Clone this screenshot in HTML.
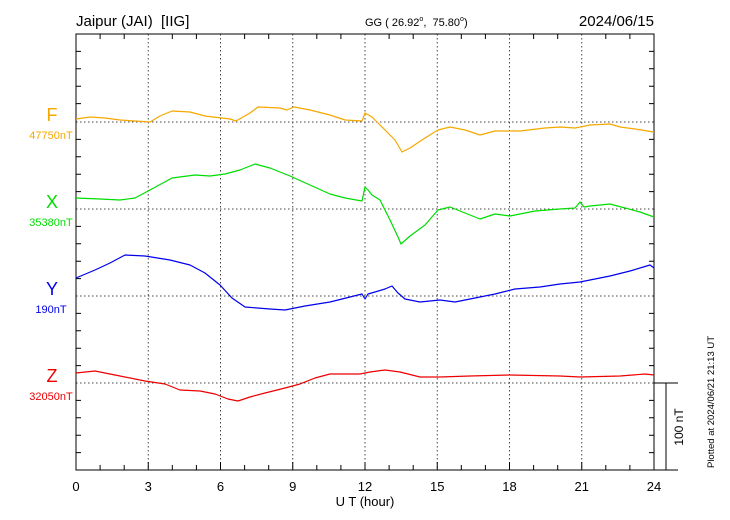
<!DOCTYPE html>
<html><head><style>body{margin:0;background:#fff}svg{display:block;font-family:"Liberation Sans",sans-serif}</style></head><body>
<svg width="730" height="520" xmlns="http://www.w3.org/2000/svg">
<rect width="730" height="520" fill="#fff"/>
<text x="76" y="26" font-size="15">Jaipur (JAI)&#160;&#160;[IIG]</text>
<text x="365" y="26" font-size="11">GG ( 26.92<tspan font-size="7" dy="-5">o</tspan><tspan dy="5">,&#160;&#160;75.80</tspan><tspan font-size="7" dy="-5">o</tspan><tspan dy="5">)</tspan></text>
<text x="654" y="26" font-size="15" text-anchor="end">2024/06/15</text>
<g stroke="#444" stroke-dasharray="1.5,2.5" stroke-width="1">
<line x1="148.25" y1="34" x2="148.25" y2="470"/><line x1="220.5" y1="34" x2="220.5" y2="470"/><line x1="292.75" y1="34" x2="292.75" y2="470"/><line x1="365" y1="34" x2="365" y2="470"/><line x1="437.25" y1="34" x2="437.25" y2="470"/><line x1="509.5" y1="34" x2="509.5" y2="470"/><line x1="581.75" y1="34" x2="581.75" y2="470"/>
<line x1="76" y1="122" x2="654" y2="122"/><line x1="76" y1="209" x2="654" y2="209"/><line x1="76" y1="296" x2="654" y2="296"/><line x1="76" y1="383" x2="654" y2="383"/>
</g>
<rect x="76" y="34" width="578" height="436" fill="none" stroke="#000"/>
<g stroke="#000">
<path d="M100.1 34v5M124.2 34v5M172.3 34v5M196.4 34v5M244.6 34v5M268.7 34v5M316.8 34v5M340.9 34v5M389.1 34v5M413.2 34v5M461.3 34v5M485.4 34v5M533.6 34v5M557.7 34v5M605.8 34v5M629.9 34v5"/>
<path d="M100.1 470v-5M124.2 470v-5M172.3 470v-5M196.4 470v-5M244.6 470v-5M268.7 470v-5M316.8 470v-5M340.9 470v-5M389.1 470v-5M413.2 470v-5M461.3 470v-5M485.4 470v-5M533.6 470v-5M557.7 470v-5M605.8 470v-5M629.9 470v-5"/>
<path d="M148.25 470v-8M220.5 470v-8M292.75 470v-8M365 470v-8M437.25 470v-8M509.5 470v-8M581.75 470v-8"/>
<path d="M76 51.4h5M76 68.8h5M76 86.2h5M76 103.6h5M76 139.4h5M76 156.8h5M76 174.2h5M76 191.6h5M76 226.4h5M76 243.8h5M76 261.2h5M76 278.6h5M76 313.4h5M76 330.8h5M76 348.2h5M76 365.6h5M76 400.4h5M76 417.8h5M76 435.2h5M76 452.6h5"/>
<path d="M654 51.4h-5M654 68.8h-5M654 86.2h-5M654 103.6h-5M654 139.4h-5M654 156.8h-5M654 174.2h-5M654 191.6h-5M654 226.4h-5M654 243.8h-5M654 261.2h-5M654 278.6h-5M654 313.4h-5M654 330.8h-5M654 348.2h-5M654 365.6h-5M654 400.4h-5M654 417.8h-5M654 435.2h-5M654 452.6h-5"/>
<path d="M654 383h24M654 470h24M666 383v87"/>
</g>
<g font-size="13" text-anchor="middle">
<text x="76" y="491">0</text><text x="148.25" y="491">3</text><text x="220.5" y="491">6</text><text x="292.75" y="491">9</text><text x="365" y="491">12</text><text x="437.25" y="491">15</text><text x="509.5" y="491">18</text><text x="581.75" y="491">21</text><text x="654" y="491">24</text>
<text x="365" y="506">U T (hour)</text>
</g>
<text transform="translate(683,427) rotate(-90)" font-size="12" text-anchor="middle">100 nT</text>
<text transform="translate(714,402) rotate(-90)" font-size="9.5" text-anchor="middle">Plotted at 2024/06/21 21:13 UT</text>
<g text-anchor="middle">
<text x="52" y="121" font-size="18" fill="#f5a800">F</text><text x="51" y="139" font-size="11" fill="#f5a800">47750nT</text>
<text x="52" y="208" font-size="18" fill="#00dd00">X</text><text x="51" y="226" font-size="11" fill="#00dd00">35380nT</text>
<text x="52" y="295" font-size="18" fill="#0000ee">Y</text><text x="51" y="313" font-size="11" fill="#0000ee">190nT</text>
<text x="52" y="382" font-size="18" fill="#ee0000">Z</text><text x="51" y="400" font-size="11" fill="#ee0000">32050nT</text>
</g>
<g fill="none" stroke-width="1.2" stroke-linejoin="round">
<polyline stroke="#f5a800" points="76,119 90,117 105,118 120,120 135,121 150,122 160,116 172,111 190,112 205,116 230,119 236,121 250,113 258,107 280,108 287,110 294,107 310,110 330,115 345,120 362,121 365,113 372,117 380,125 395,140 402,152 410,148 425,138 438,130 450,127 465,130 480,135 495,131 520,131 545,128 560,127 575,128 590,125 610,124 620,127 635,129 654,132"/>
<polyline stroke="#00dd00" points="76,198 100,199 120,200 135,198 150,190 172,178 195,175 210,176 225,174 240,170 255,164 270,168 290,176 310,185 330,194 345,198 362,201 365,187 368,190 372,195 380,200 390,220 398,237 401,244 410,236 425,225 438,210 450,207 465,213 480,219 495,214 510,216 535,211 560,209 575,208 580,202 584,207 590,206 610,204 625,208 640,212 654,217"/>
<polyline stroke="#0000ee" points="76,278 95,270 110,263 125,255 145,256 170,260 190,265 205,273 220,285 232,298 245,307 270,309 285,310 305,306 330,302 350,297 362,294 365,299 368,294 375,292 385,289 392,286 398,293 405,299 420,302 440,300 455,302 475,298 495,294 515,289 540,287 560,284 580,282 595,279 610,276 630,271 650,265 654,268"/>
<polyline stroke="#ee0000" points="76,373 95,371 120,376 145,381 165,384 180,390 200,391 215,394 228,399 238,401 250,397 265,393 285,388 300,384 315,378 330,374 360,374 370,372 385,370 400,372 420,377 440,377 470,376 510,375 560,376 580,377 620,376 645,374 654,375"/>
</g>
</svg>
</body></html>
